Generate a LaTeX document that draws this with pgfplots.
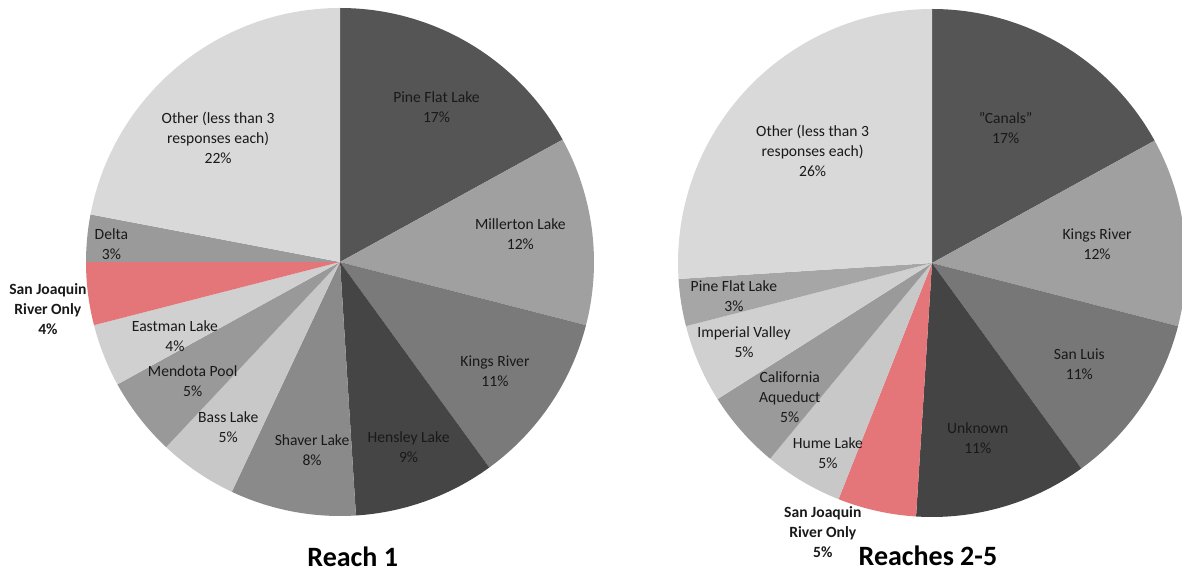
\documentclass[border=0pt]{standalone}
\usepackage{pgfplots}
\pgfplotsset{compat=1.18}
\usepackage{pgfplotstable}
\usepackage{fontspec}
\setmainfont{Carlito}

\definecolor{sjred}{RGB}{228,118,122}

% value (%), grey level (-1 = red hatched), bold, label x, label y (in radii), label
\pgfplotstableread[col sep=comma]{
value,shade,bold,lx,ly,label
17,85,0,0.38,0.61,Pine Flat Lake
12,160,0,0.71,0.11,Millerton Lake
11,122,0,0.61,-0.43,Kings River
9,69,0,0.27,-0.73,Hensley Lake
8,138,0,-0.11,-0.74,Shaver Lake
5,200,0,-0.44,-0.65,Bass Lake
5,153,0,-0.58,-0.47,Mendota Pool
4,208,0,-0.65,-0.29,Eastman Lake
4,-1,1,-1.15,-0.185,{San Joaquin\\River Only}
3,154,0,-0.90,0.07,Delta
22,217,0,-0.48,0.49,{Other (less than 3\\responses each)}
}\reachone

\pgfplotstableread[col sep=comma]{
value,shade,bold,lx,ly,label
17,85,0,0.29,0.53,{\symbol{34}Canals\symbol{34}}
12,160,0,0.65,0.075,Kings River
11,119,0,0.58,-0.40,San Luis
11,68,0,0.18,-0.69,Unknown
5,-1,1,-0.43,-1.06,{San Joaquin\\River Only}
5,200,0,-0.41,-0.75,Hume Lake
5,154,0,-0.56,-0.53,{California\\Aqueduct}
5,208,0,-0.74,-0.31,Imperial Valley
3,166,0,-0.78,-0.13,Pine Flat Lake
26,217,0,-0.47,0.44,{Other (less than 3\\responses each)}
}\reachestwo

\newcommand\drawpie[1]{%
  \pgfplotstablegetrowsof{#1}%
  \pgfmathtruncatemacro\nrows{\pgfplotsretval-1}%
  \gdef\cumangle{90}%
  \foreach \i in {0,...,\nrows}{%
    \pgfplotstablegetelem{\i}{value}\of{#1}\let\val\pgfplotsretval
    \pgfplotstablegetelem{\i}{shade}\of{#1}\let\shd\pgfplotsretval
    \pgfmathsetmacro\a{\cumangle}%
    \pgfmathsetmacro\b{\cumangle-3.6*\val}%
    \xdef\cumangle{\b}%
    \ifdim\shd pt<0pt
      \fill[sjred] (axis cs:0,0) -- (axis cs:{cos(\a)},{sin(\a)}) arc[start angle=\a, end angle=\b, radius=127pt] -- cycle;
    \else
      \definecolor{slice}{RGB}{\shd,\shd,\shd}%
      \fill[slice] (axis cs:0,0) -- (axis cs:{cos(\a)},{sin(\a)}) arc[start angle=\a, end angle=\b, radius=127pt] -- cycle;
    \fi
  }%
  \foreach \i in {0,...,\nrows}{%
    \pgfplotstablegetelem{\i}{value}\of{#1}\let\val\pgfplotsretval
    \pgfplotstablegetelem{\i}{bold}\of{#1}\let\bld\pgfplotsretval
    \pgfplotstablegetelem{\i}{lx}\of{#1}\let\lx\pgfplotsretval
    \pgfplotstablegetelem{\i}{ly}\of{#1}\let\ly\pgfplotsretval
    \pgfplotstablegetelem{\i}{label}\of{#1}\let\lab\pgfplotsretval
    \ifnum\bld=1
      \node[align=center, inner sep=0pt, text=black!90, font=\fontsize{7.8}{10}\selectfont\bfseries] at (axis cs:\lx,\ly) {\lab\\\val\%};
    \else
      \node[align=center, inner sep=0pt, text=black!90, font=\fontsize{7.8}{10}\selectfont] at (axis cs:\lx,\ly) {\lab\\\val\%};
    \fi
  }%
}

\begin{document}
\begin{tikzpicture}
\useasboundingbox (0,0) rectangle (591pt,286.5pt);
\begin{axis}[at={(170pt,155.5pt)}, anchor=center, scale only axis,
  width=254pt, height=254pt, xmin=-1, xmax=1, ymin=-1, ymax=1,
  hide axis, clip=false]
  \pgfplotsextra{\drawpie{\reachone}}
  \node[anchor=base, font=\fontsize{14}{16}\selectfont\bfseries] at (axis cs:0.05,-1.20) {Reach 1};
\end{axis}
\begin{axis}[at={(466pt,155pt)}, anchor=center, scale only axis,
  width=254pt, height=254pt, xmin=-1, xmax=1, ymin=-1, ymax=1,
  hide axis, clip=false]
  \pgfplotsextra{\drawpie{\reachestwo}}
  \node[anchor=base, font=\fontsize{14}{16}\selectfont\bfseries] at (axis cs:-0.016,-1.19) {Reaches 2-5};
\end{axis}
\end{tikzpicture}
\end{document}
